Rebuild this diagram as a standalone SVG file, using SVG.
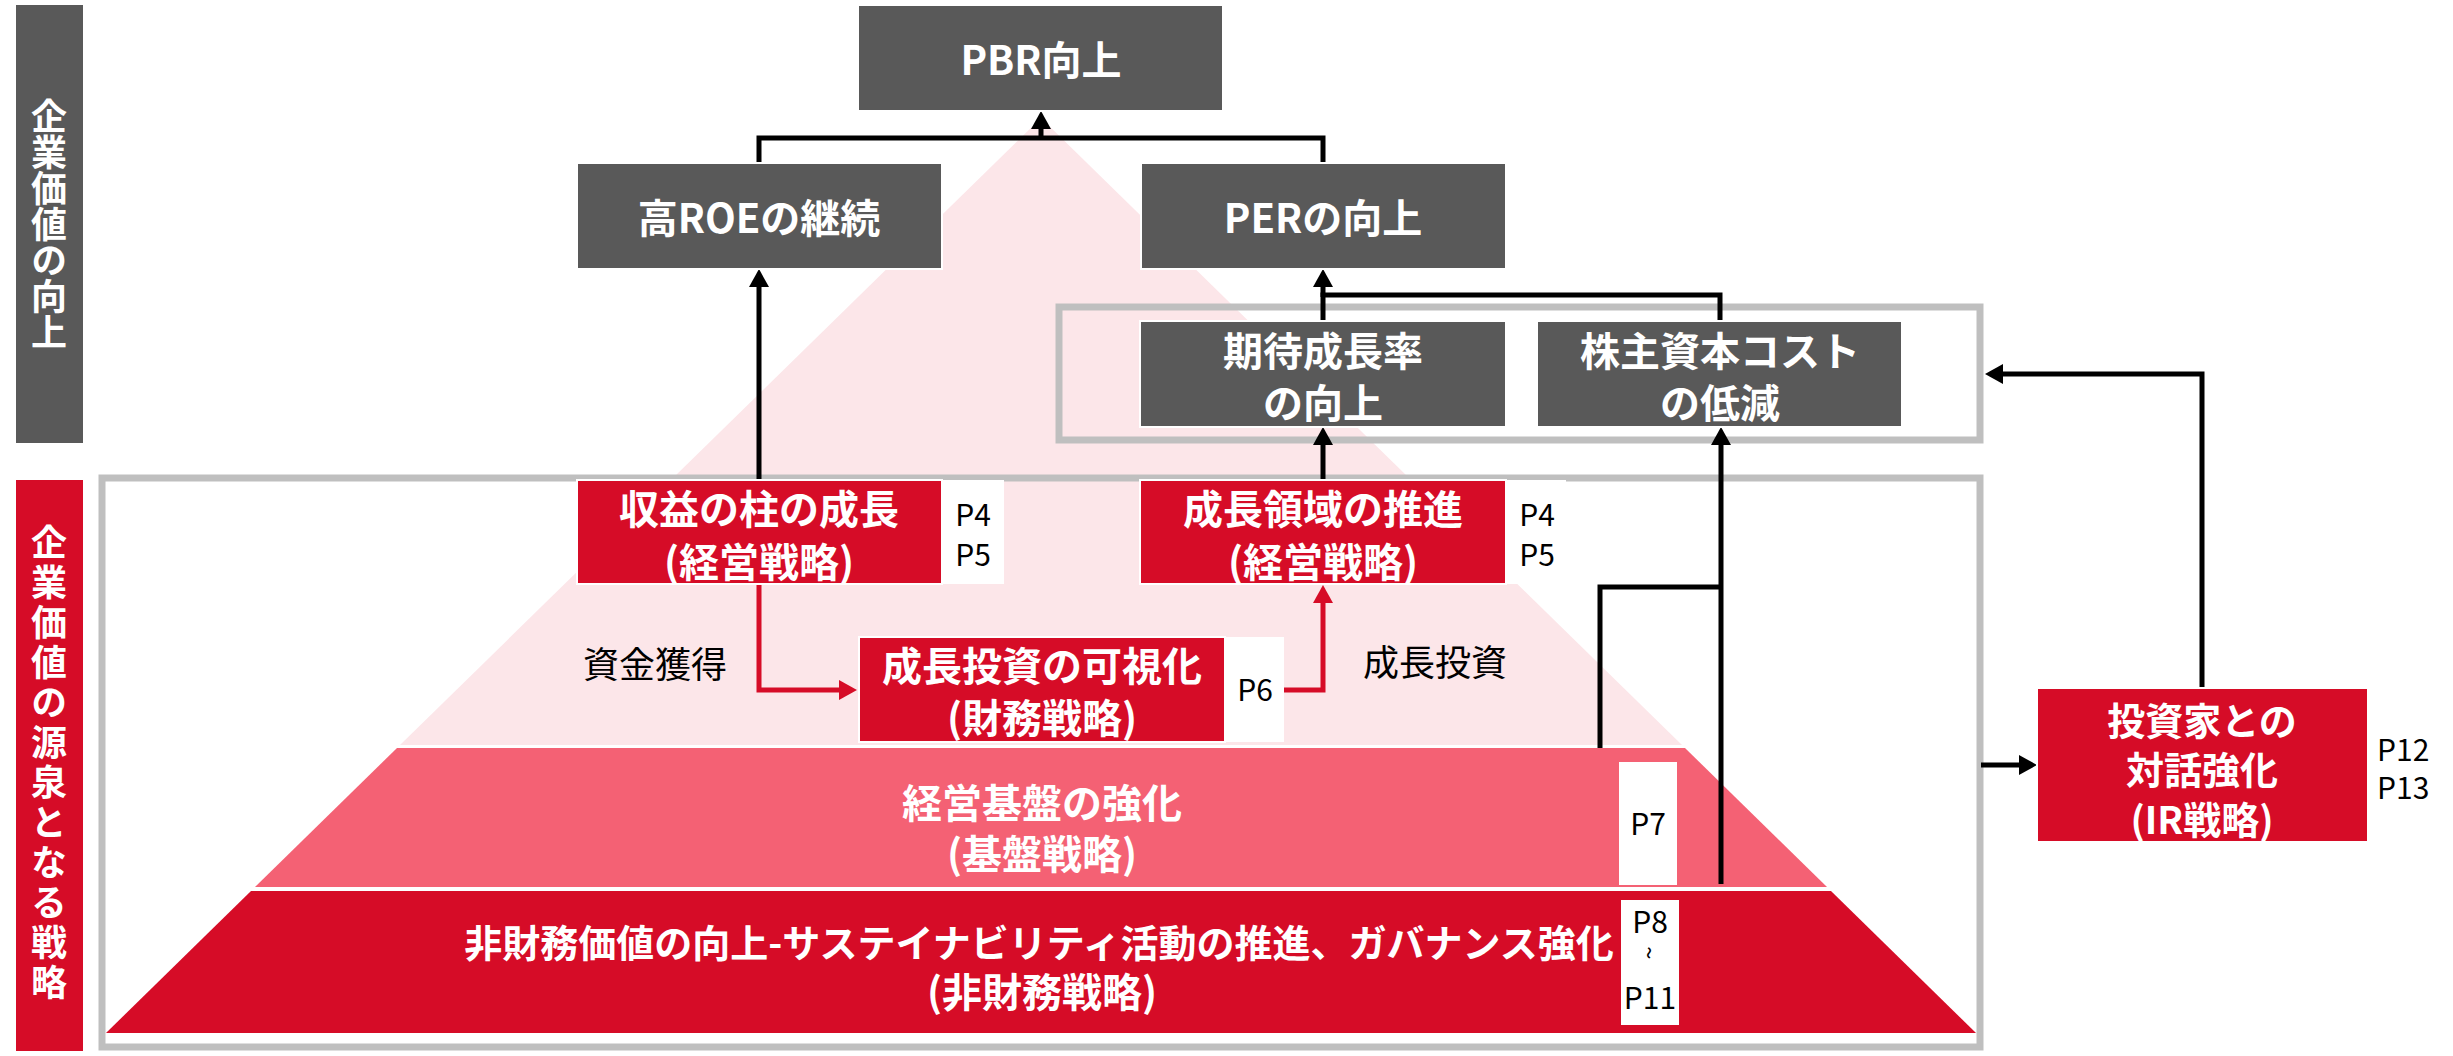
<svg xmlns="http://www.w3.org/2000/svg" width="2453" height="1056" viewBox="0 0 2453 1056">
<style>
  text { font-family: "Noto Sans CJK JP", "Noto Sans", sans-serif; dominant-baseline: central; text-anchor: middle; }
  .bw { fill: #ffffff; font-weight: 700; font-size: 40px; }
  .lbl { fill: #000000; font-weight: 400; font-size: 30px; }
  .cap { fill: #000000; font-weight: 400; font-size: 36px; }
  .gbox { fill: #595959; stroke: #ffffff; stroke-width: 2; }
  .rbox { fill: #d60c27; stroke: #ffffff; stroke-width: 2; }
  .wbox { fill: #ffffff; }
  .frame { fill: none; stroke: #bfbfbf; stroke-width: 7; }
  .ln { fill: none; stroke: #000000; stroke-width: 5; }
  .rln { fill: none; stroke: #d60c27; stroke-width: 5; }
  .vt { writing-mode: vertical-rl; fill: #ffffff; font-weight: 700; font-size: 36px; }
</style>
<defs>
  <marker id="ah" viewBox="0 0 18 20" refX="0" refY="10" markerWidth="18" markerHeight="20" markerUnits="userSpaceOnUse" orient="auto">
    <path d="M0,0 L18,10 L0,20 Z" fill="#000000"/>
  </marker>
  <marker id="ahr" viewBox="0 0 18 20" refX="0" refY="10" markerWidth="18" markerHeight="20" markerUnits="userSpaceOnUse" orient="auto">
    <path d="M0,0 L18,10 L0,20 Z" fill="#d60c27"/>
  </marker>
</defs>
<rect width="2453" height="1056" fill="#ffffff"/>

<!-- pyramid -->
<g id="pyramid">
  <polygon points="1041,118 1682,745 400,745" fill="#fce6e9"/>
  <polygon points="397,748 1685,748 1827,887 255,887" fill="#f46174"/>
  <polygon points="251,891 1831,891 1976,1033 106,1033" fill="#d60c27"/>
</g>

<!-- side bars -->
<g id="bar-top">
  <rect x="16" y="5" width="67" height="438" fill="#595959"/>
  <text class="vt" x="49" y="224">企業価値の向上</text>
</g>
<g id="bar-bottom">
  <rect x="16" y="480" width="67" height="571" fill="#d60c27"/>
  <text class="vt" x="49" y="764" style="letter-spacing:4px">企業価値の源泉となる戦略</text>
</g>

<!-- frames -->
<g id="frame-per">
  <rect class="frame" x="1059" y="307" width="921" height="133"/>
</g>
<g id="frame-strategy">
  <rect class="frame" x="102" y="478" width="1878" height="569"/>
</g>

<!-- connectors -->
<g id="connectors">
  <path class="ln" d="M759,163 V138 H1323 V163"/>
  <path class="ln" d="M1041,140 V129" marker-end="url(#ah)"/>
  <path class="ln" d="M1323,321 V295 H1720 V321"/>
  <path class="ln" d="M1323,297 V287" marker-end="url(#ah)"/>
  <path class="ln" d="M759,480 V287" marker-end="url(#ah)"/>
  <path class="ln" d="M1323,480 V445" marker-end="url(#ah)"/>
  <path class="ln" d="M1600,748 V587 H1721"/>
  <path class="ln" d="M1721,884 V445" marker-end="url(#ah)"/>
  <path class="ln" d="M2202,688 V374 H2003" marker-end="url(#ah)"/>
  <path class="ln" d="M1981,765 H2019" marker-end="url(#ah)"/>
  <path class="rln" d="M759,584 V690 H839" marker-end="url(#ahr)"/>
  <path class="rln" d="M1284,690 H1323 V603" marker-end="url(#ahr)"/>
</g>

<!-- nodes -->
<g id="pbr">
  <rect class="gbox" x="858" y="5" width="365" height="106"/>
  <text class="bw" x="1041" y="58">PBR向上</text>
</g>
<g id="roe">
  <rect class="gbox" x="577" y="163" width="365" height="106"/>
  <text class="bw" x="759" y="216">高ROEの継続</text>
</g>
<g id="per">
  <rect class="gbox" x="1141" y="163" width="365" height="106"/>
  <text class="bw" x="1323" y="216">PERの向上</text>
</g>
<g id="growth-rate">
  <rect class="gbox" x="1140" y="321" width="366" height="106"/>
  <text class="bw" x="1323" y="349">期待成長率</text>
  <text class="bw" x="1323" y="401">の向上</text>
</g>
<g id="cost">
  <rect class="gbox" x="1537" y="321" width="365" height="106"/>
  <text class="bw" x="1720" y="349">株主資本コスト</text>
  <text class="bw" x="1720" y="401">の低減</text>
</g>
<g id="pillar">
  <rect class="rbox" x="577" y="480" width="365" height="104"/>
  <text class="bw" x="759" y="507">収益の柱の成長</text>
  <text class="bw" x="759" y="560">(経営戦略)</text>
  <rect class="wbox" x="943" y="480" width="61" height="104"/>
  <text class="lbl" x="973" y="513">P4</text>
  <text class="lbl" x="973" y="553">P5</text>
</g>
<g id="domain">
  <rect class="rbox" x="1140" y="480" width="366" height="104"/>
  <text class="bw" x="1323" y="507">成長領域の推進</text>
  <text class="bw" x="1323" y="560">(経営戦略)</text>
  <rect class="wbox" x="1507" y="480" width="59" height="104"/>
  <text class="lbl" x="1537" y="513">P4</text>
  <text class="lbl" x="1537" y="553">P5</text>
</g>
<g id="invest">
  <rect class="rbox" x="859" y="637" width="366" height="105"/>
  <text class="bw" x="1042" y="664">成長投資の可視化</text>
  <text class="bw" x="1042" y="716">(財務戦略)</text>
  <rect class="wbox" x="1226" y="637" width="58" height="105"/>
  <text class="lbl" x="1255" y="688">P6</text>
</g>
<g id="base">
  <text class="bw" x="1042" y="801">経営基盤の強化</text>
  <text class="bw" x="1042" y="852">(基盤戦略)</text>
  <rect class="wbox" x="1619" y="762" width="58" height="123"/>
  <text class="lbl" x="1648" y="822">P7</text>
</g>
<g id="nonfin">
  <text class="bw" x="1039" y="940" style="font-size:38px">非財務価値の向上-サステイナビリティ活動の推進、ガバナンス強化</text>
  <text class="bw" x="1042" y="990">(非財務戦略)</text>
  <rect class="wbox" x="1621" y="900" width="58" height="125"/>
  <text class="lbl" x="1650" y="920">P8</text>
  <text class="lbl" x="1650" y="953" transform="rotate(90 1650 953)" style="font-size:24px">~</text>
  <text class="lbl" x="1650" y="996">P11</text>
</g>
<g id="ir">
  <rect class="rbox" x="2037" y="688" width="331" height="154"/>
  <text class="bw" x="2202" y="718" style="font-size:38px">投資家との</text>
  <text class="bw" x="2202" y="767" style="font-size:38px">対話強化</text>
  <text class="bw" x="2202" y="817" style="font-size:38px">(IR戦略)</text>
  <text class="lbl" x="2377" y="748" style="text-anchor:start">P12</text>
  <text class="lbl" x="2377" y="786" style="text-anchor:start">P13</text>
</g>

<!-- captions -->
<g id="captions">
  <text class="cap" x="655" y="662">資金獲得</text>
  <text class="cap" x="1435" y="660">成長投資</text>
</g>
</svg>
